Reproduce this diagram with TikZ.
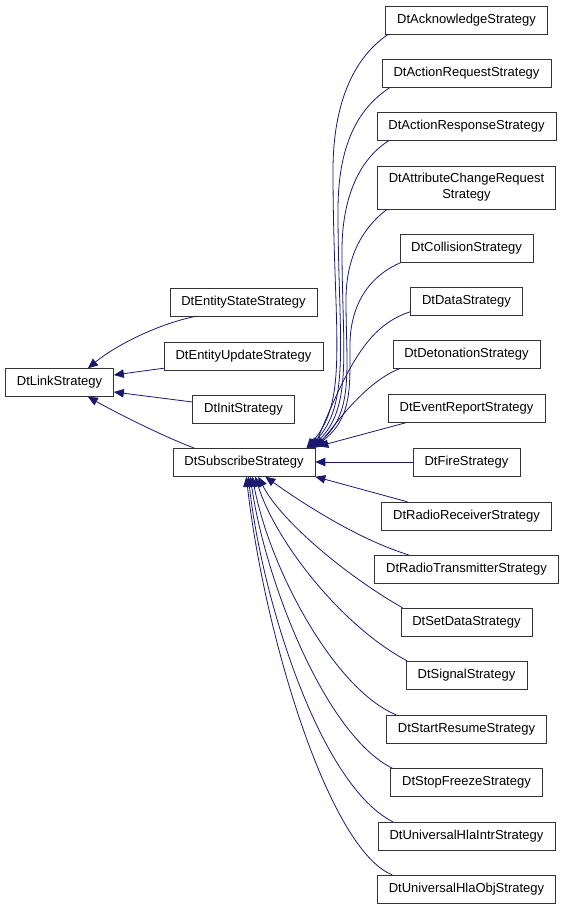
\documentclass[tikz,border=0pt]{standalone}
\usepackage{fontspec}
\setmainfont{Liberation Sans}
\usetikzlibrary{arrows.meta}
\definecolor{edgeblue}{HTML}{191970}
\tikzset{
  cls/.style={draw=black!80, fill=white, font=\fontsize{13}{16}\selectfont,
    align=center, minimum height=28pt, inner xsep=11.5pt, inner ysep=7.5pt},
  inherit/.style={draw=edgeblue, line width=0.8pt,
    -{Triangle[length=10pt, width=8.5pt]}, fill=none}
}

\begin{document}
\begin{tikzpicture}[x=1pt, y=-1pt]
  \useasboundingbox (0,0) rectangle (565,909);

  % base classes
  \node[cls] (link) at (59.5,382.5) {DtLinkStrategy};
  \node[cls] (estate) at (243.5,302) {DtEntityStateStrategy};
  \node[cls] (eupdate) at (243.5,356) {DtEntityUpdateStrategy};
  \node[cls] (init) at (243.5,409) {DtInitStrategy};
  \node[cls] (subscr) at (244,462.5) {DtSubscribeStrategy};

  % subscribe strategies
  \node[cls] (ack) at (466.5,20) {DtAcknowledgeStrategy};
  \node[cls] (actreq) at (466.5,73.5) {DtActionRequestStrategy};
  \node[cls] (actresp) at (466.5,126.5) {DtActionResponseStrategy};
  \node[cls] (attr) at (466.5,187.5) {DtAttributeChangeRequest\\Strategy};
  \node[cls] (coll) at (466.5,248.5) {DtCollisionStrategy};
  \node[cls] (data) at (466.5,301.5) {DtDataStrategy};
  \node[cls] (deton) at (466.5,354.5) {DtDetonationStrategy};
  \node[cls] (event) at (466.5,408.5) {DtEventReportStrategy};
  \node[cls] (fire) at (466.5,462) {DtFireStrategy};
  \node[cls] (rrecv) at (466.5,516) {DtRadioReceiverStrategy};
  \node[cls] (rtrans) at (466.5,569) {DtRadioTransmitterStrategy};
  \node[cls] (setdata) at (466.5,622) {DtSetDataStrategy};
  \node[cls] (signal) at (466.5,675) {DtSignalStrategy};
  \node[cls] (startres) at (466.5,729) {DtStartResumeStrategy};
  \node[cls] (stopfrz) at (466.5,782.5) {DtStopFreezeStrategy};
  \node[cls] (uhintr) at (466.5,836) {DtUniversalHlaIntrStrategy};
  \node[cls] (uhobj) at (466.5,889) {DtUniversalHlaObjStrategy};

  % inheritance to DtLinkStrategy
  \draw[inherit] ([xshift=27pt]estate.south west) .. controls (165,322) and (120,342) .. ([xshift=-26pt]link.north east);
  \draw[inherit] ([yshift=2pt]eupdate.south west) -- ([yshift=7.5pt]link.east);
  \draw[inherit] ([yshift=7pt]init.west) -- ([yshift=-9.5pt]link.east);
  \draw[inherit] ([xshift=22pt]subscr.north west) .. controls (160,435) and (115,412) .. ([xshift=-26pt]link.south east);

  % inheritance to DtSubscribeStrategy, upper part
  \draw[inherit] ([xshift=3pt]ack.south west) .. controls (350,60) and (333,110) .. (333,170)
    .. controls (333,330) and (350,400) .. ([xshift=-9pt]subscr.north east);
  \draw[inherit] ([xshift=8pt]actreq.south west) .. controls (355,110) and (338,150) .. (338,210)
    .. controls (338,340) and (352,405) .. ([xshift=-7.5pt]subscr.north east);
  \draw[inherit] ([xshift=12pt]actresp.south west) .. controls (358,160) and (342,200) .. (342,250)
    .. controls (342,350) and (354,410) .. ([xshift=-6pt]subscr.north east);
  \draw[inherit] ([xshift=10pt]attr.south west) .. controls (360,230) and (346,260) .. (346,300)
    .. controls (346,370) and (355,415) .. ([xshift=-4.5pt]subscr.north east);
  \draw[inherit] ([xshift=1pt]coll.south west) .. controls (365,278) and (350,310) .. (350,345)
    .. controls (350,390) and (352,420) .. ([xshift=-3pt]subscr.north east);
  \draw[inherit] ([yshift=4pt]data.south west) .. controls (370,325) and (350,360) .. ([xshift=-1.5pt]subscr.north east);
  \draw[inherit] ([xshift=7pt]deton.south west) .. controls (365,382) and (335,425) .. ([xshift=1pt,yshift=1pt]subscr.north east);
  \draw[inherit] ([xshift=18pt]event.south west) -- ([xshift=3pt,yshift=2pt]subscr.north east);
  \draw[inherit] (fire.west) -- ([yshift=0.5pt]subscr.east);

  % inheritance to DtSubscribeStrategy, lower part
  \draw[inherit] ([xshift=26pt]rrecv.north west) -- (subscr.south east);
  \draw[inherit] ([xshift=34pt]rtrans.north west) .. controls (360,540) and (305,505) .. ([xshift=-50pt]subscr.south east);
  \draw[inherit] ([xshift=2pt]setdata.north west) .. controls (345,575) and (280,520) .. ([xshift=-57pt]subscr.south east);
  \draw[inherit] ([xshift=1pt]signal.north west) .. controls (340,625) and (275,540) .. ([xshift=-60pt]subscr.south east);
  \draw[inherit] ([xshift=10pt]startres.north west) .. controls (335,690) and (270,570) .. ([xshift=-63pt]subscr.south east);
  \draw[inherit] ([xshift=2pt]stopfrz.north west) .. controls (325,735) and (265,580) .. ([xshift=-65pt]subscr.south east);
  \draw[inherit] ([xshift=15pt]uhintr.north west) .. controls (320,785) and (262,600) .. ([xshift=-67pt]subscr.south east);
  \draw[inherit] ([xshift=15pt]uhobj.north west) .. controls (330,850) and (265,640) .. ([xshift=-69pt]subscr.south east);
\end{tikzpicture}
\end{document}
